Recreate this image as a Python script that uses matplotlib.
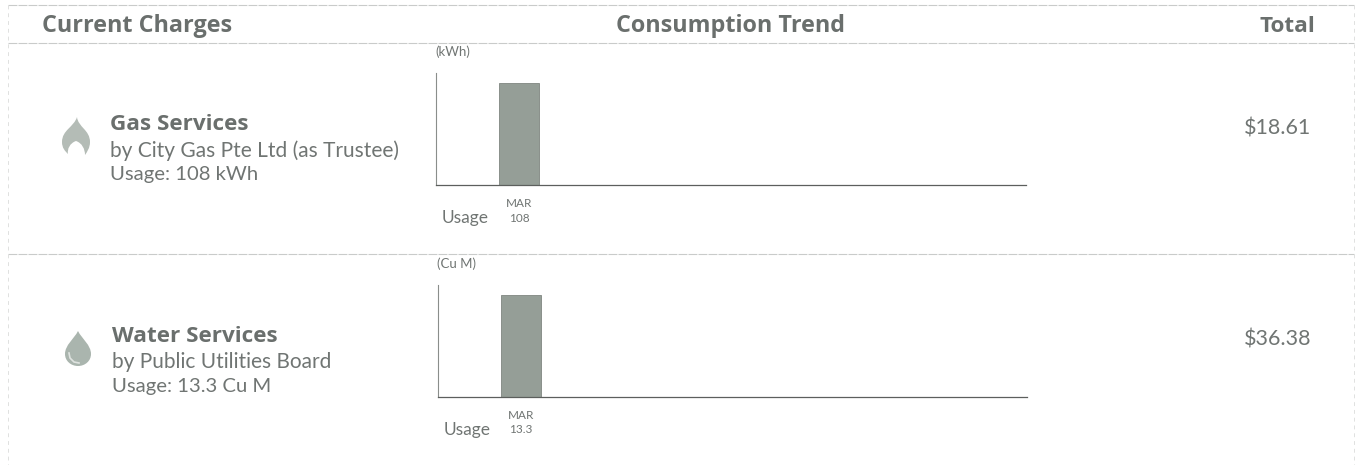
import matplotlib
matplotlib.use('Agg')
import matplotlib.pyplot as plt
from matplotlib.path import Path
from matplotlib.patches import PathPatch

# values read from the bill
services = ['Gas Services', 'Water Services']
providers = ['by City Gas Pte Ltd (as Trustee)', 'by Public Utilities Board']
usage_text = ['Usage: 108 kWh', 'Usage: 13.3 Cu M']
units = ['(kWh)', '(Cu M)']
months = ['MAR']
gas_usage = [108]
water_usage = [13.3]
totals = ['$18.61', '$36.38']
headers = ['Current Charges', 'Consumption Trend', 'Total']

W, H = 1360, 465
TEXT = '#707573'
HEAD = '#6a6f6d'
BAR = '#959e97'
LINE = '#5c5f5d'
BORDER = '#c9cbca'
plt.rcParams['font.family'] = ['Lato', 'DejaVu Sans']
BOLD = ['Open Sans', 'DejaVu Sans']

fig = plt.figure(figsize=(W / 100, H / 100), dpi=100)

# full page axes in pixel coordinates for the table parts
page = fig.add_axes([0, 0, 1, 1])
page.set_xlim(0, W)
page.set_ylim(H, 0)
page.axis('off')

# table rules, scanned so they look broken up
for y in [5, 43, 254]:
    page.plot([8, 1354], [y, y], color=BORDER, lw=0.8, ls=(0, (8, 1)))
page.plot([8, 8], [5, 465], color='#e0e1e0', lw=0.7, ls=(0, (4, 4)))
page.plot([1354, 1354], [5, 465], color='#e0e1e0', lw=0.7, ls=(0, (4, 4)))

page.text(42, 25.5, headers[0], fontsize=16.8, fontweight='bold', family=BOLD, color=HEAD, ha='left', va='center')
page.text(730, 25.5, headers[1], fontsize=16.8, fontweight='bold', family=BOLD, color=HEAD, ha='center', va='center')
page.text(1315, 26.5, headers[2], fontsize=16.2, fontweight='bold', family=BOLD, color=HEAD, ha='right', va='center')


def flame(cx, cy):
    verts = [(cx + 1, cy - 19), (cx + 2, cy - 9), (cx + 14, cy - 6), (cx + 14, cy + 6),
             (cx + 14, cy + 12), (cx + 11, cy + 16), (cx + 9, cy + 19),
             (cx + 9, cy + 13), (cx + 6, cy + 7), (cx, cy + 5),
             (cx - 6, cy + 7), (cx - 9, cy + 13), (cx - 8, cy + 18),
             (cx - 11, cy + 15), (cx - 14, cy + 12), (cx - 14, cy + 6),
             (cx - 14, cy - 6), (cx - 2, cy - 9), (cx + 1, cy - 19), (cx + 1, cy - 19)]
    codes = [Path.MOVETO] + [Path.CURVE4] * 18 + [Path.CLOSEPOLY]
    page.add_patch(PathPatch(Path(verts, codes), fc='#b4bcb6', ec='none'))


def drop(cx, cy):
    verts = [(cx, cy - 18), (cx + 4, cy - 10), (cx + 13, cy - 4), (cx + 13, cy + 5),
             (cx + 13, cy + 12), (cx + 7, cy + 17), (cx, cy + 17),
             (cx - 7, cy + 17), (cx - 13, cy + 12), (cx - 13, cy + 5),
             (cx - 13, cy - 4), (cx - 4, cy - 10), (cx, cy - 18), (cx, cy - 18)]
    codes = [Path.MOVETO] + [Path.CURVE4] * 12 + [Path.CLOSEPOLY]
    page.add_patch(PathPatch(Path(verts, codes), fc='#aab5ae', ec='none'))
    # small highlight at the bottom left of the drop
    page.plot([cx - 9, cx - 8, cx - 4, cx + 1], [cy + 4, cy + 9, cy + 13, cy + 14],
              color='#dfe3e0', lw=1.2)


flame(76, 136)
drop(78, 349)

# left column text and totals
row_x = [110, 112]
row_y = [124.5, 336]
total_y = [128, 339]
for i in range(2):
    page.text(row_x[i], row_y[i], services[i], fontsize=16.2, fontweight='bold', family=BOLD, color=HEAD, ha='left', va='center')
    page.text(row_x[i], row_y[i] + 26, providers[i], fontsize=15, color=TEXT, ha='left', va='center')
    page.text(row_x[i], row_y[i] + 50, usage_text[i], fontsize=14.6, color=TEXT, ha='left', va='center')
    page.text(1311, total_y[i], totals[i], fontsize=15.5, color=TEXT, ha='right', va='center')


def usage_chart(left, right, top, bottom, bar_left, bar_right, bar_top, values, unit, usage_y):
    ax = fig.add_axes([left / W, 1 - bottom / H, (right - left) / W, (bottom - top) / H])
    ax.patch.set_alpha(0)
    bar_px = bar_right - bar_left
    centre = (bar_left + bar_right) / 2
    ax.bar(range(len(months)), values, width=0.98, color=BAR, edgecolor='#7f8681', lw=0.6)
    ax.set_xlim((left - centre) / bar_px, (right - centre) / bar_px)
    ax.set_ylim(0, values[0] * (bottom - top) / (bottom - bar_top))
    ax.set_yticks([])
    ax.set_xticks(range(len(months)))
    ax.set_xticklabels([f'{m}\n{v}' for m, v in zip(months, values)], fontsize=8.5, color=TEXT, linespacing=1.4)
    ax.tick_params(axis='x', length=0, pad=9)
    ax.spines['top'].set_visible(False)
    ax.spines['right'].set_visible(False)
    ax.spines['left'].set_color('#8a8e8b')
    ax.spines['left'].set_linewidth(0.8)
    ax.spines['bottom'].set_color(LINE)
    ax.spines['bottom'].set_linewidth(0.9)
    page.text(left - 1, top - 21, unit, fontsize=9.5, color=TEXT, ha='left', va='center')
    page.text(left + 6, usage_y, 'Usage', fontsize=12.5, color=TEXT, ha='left', va='center')


usage_chart(436, 1026, 73, 185.5, 499, 539.5, 83.5, gas_usage, units[0], 218)
usage_chart(438, 1027, 285, 397, 501, 541.5, 295, water_usage, units[1], 430)

fig.savefig('out.png', dpi=100)
